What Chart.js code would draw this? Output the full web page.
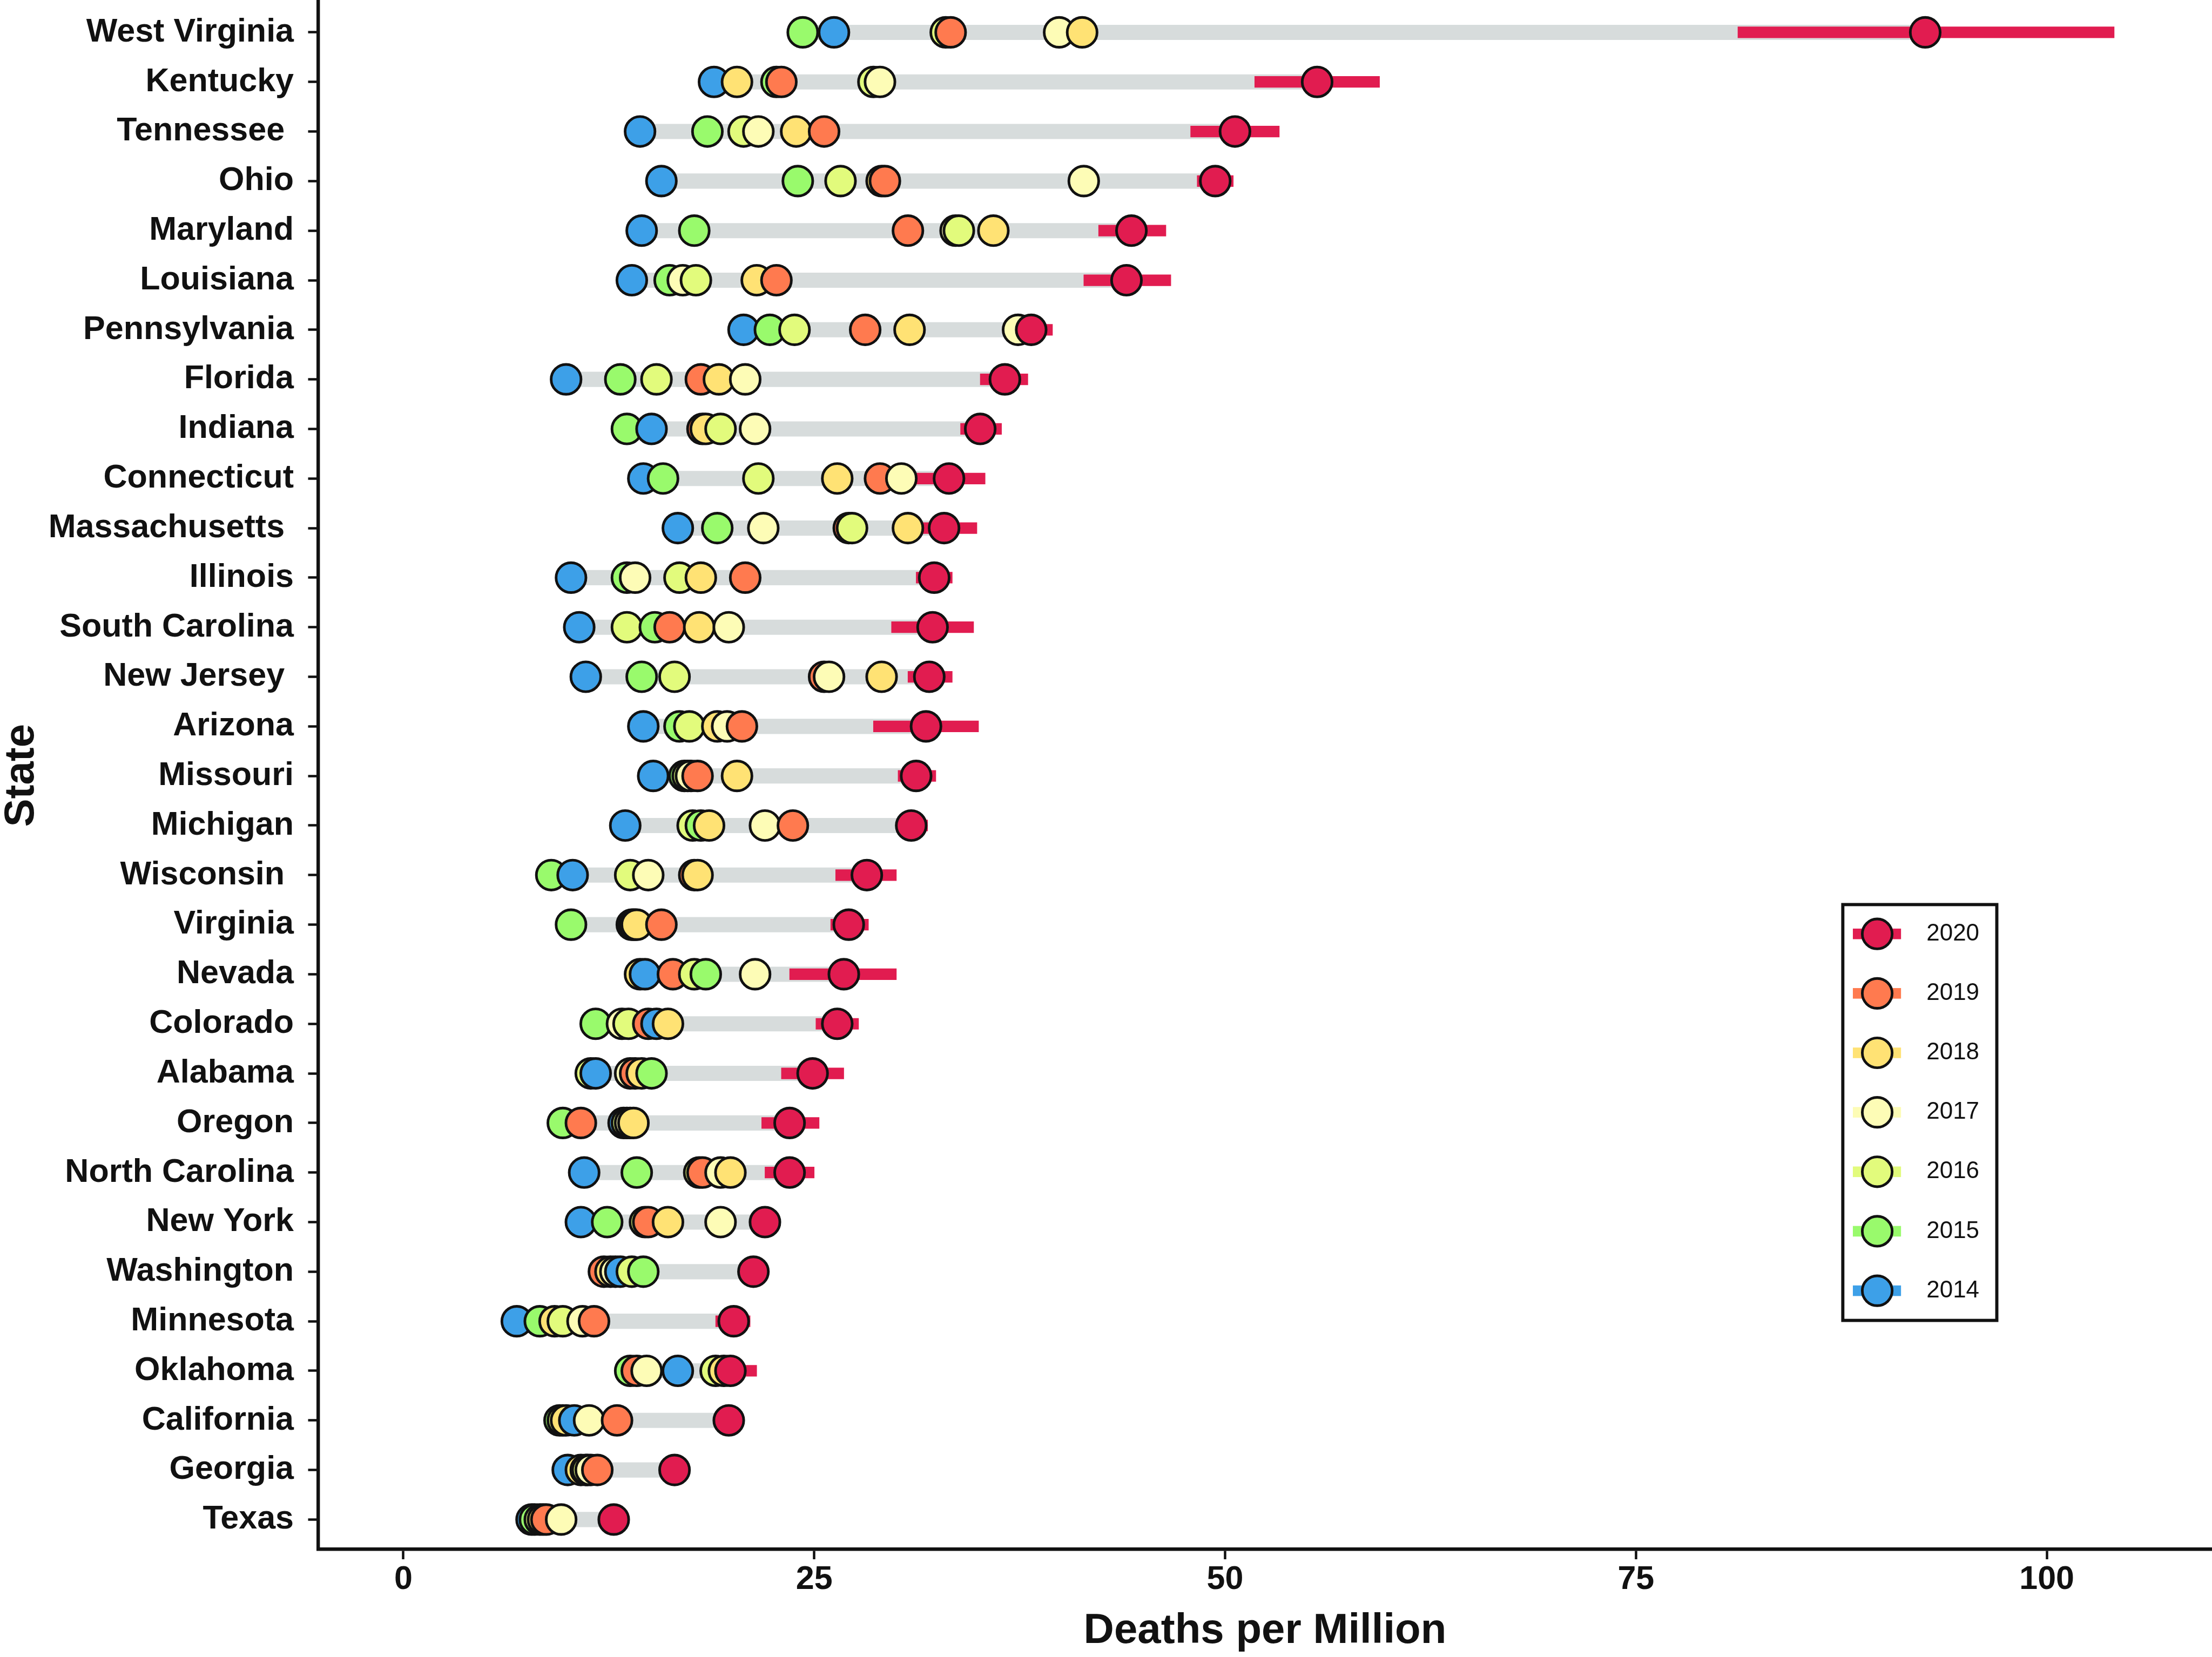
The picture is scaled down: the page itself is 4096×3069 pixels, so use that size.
<!DOCTYPE html>
<html>
<head>
<meta charset="utf-8">
<script src="https://cdn.jsdelivr.net/npm/chart.js@4/dist/chart.umd.min.js"></script>
<style>
  html, body { margin: 0; padding: 0; background: #ffffff; }
  #wrap { width: 4096px; height: 3069px; position: relative; }
  canvas { display: block; }
</style>
</head>
<body>
<div id="wrap"><canvas id="c" width="4096" height="3069"></canvas></div>
<script>
// ---------------- DATA ----------------
const states = ["West Virginia","Kentucky","Tennessee ","Ohio","Maryland","Louisiana","Pennsylvania","Florida","Indiana","Connecticut","Massachusetts ","Illinois","South Carolina","New Jersey ","Arizona","Missouri","Michigan","Wisconsin ","Virginia","Nevada","Colorado","Alabama","Oregon","North Carolina","New York","Washington","Minnesota","Oklahoma","California","Georgia","Texas"];
const years = ["2014","2015","2016","2017","2018","2019","2020"];

const y2014 = [26.2,18.9,14.4,15.7,14.5,13.9,20.7, 9.9,15.1,14.6,16.7,10.2,10.7,11.1,14.6,15.2,13.5,10.3,13.9,14.7,15.4,11.7,13.4,11.0,10.8,13.2, 6.9,16.7,10.4,10.0, 7.8];
const y2015 = [24.3,22.7,18.5,24.0,17.7,16.2,22.3,13.2,13.6,15.8,19.1,13.6,15.3,14.5,16.8,17.1,18.1, 9.0,10.2,18.4,11.7,15.1, 9.7,14.2,12.4,14.6, 8.3,13.8, 9.5,11.1, 8.0];
const y2016 = [33.0,28.6,20.7,26.6,33.8,17.8,23.8,15.4,19.3,21.6,27.3,16.8,13.6,16.5,17.4,17.3,17.6,13.8,14.0,17.7,13.7,11.4,13.6,18.0,14.7,13.9, 9.7,19.0, 9.7,11.2, 8.3];
const y2017 = [39.9,29.0,21.6,41.4,33.6,17.0,37.4,20.8,21.4,30.3,21.9,14.1,19.8,25.9,19.7,17.5,22.0,14.9,14.1,21.4,13.3,13.8,13.8,19.3,19.3,12.9,10.9,14.8,11.3,11.4, 9.6];
const y2018 = [41.3,20.3,23.9,29.1,35.9,21.5,30.8,19.2,18.4,26.4,30.7,18.1,18.0,29.1,19.1,20.3,18.6,17.9,14.2,14.4,16.1,14.5,14.0,19.9,16.1,12.6, 9.2,19.5, 9.9,10.8, 8.5];
const y2019 = [33.3,23.0,25.6,29.3,30.7,22.7,28.1,18.1,18.2,29.0,27.1,20.8,16.2,25.6,20.6,17.9,23.7,17.7,15.7,16.4,14.9,14.1,10.8,18.2,14.9,12.2,11.6,14.2,13.0,11.8, 8.7];
const y2020 = [92.6,55.6,50.6,49.4,44.3,44.0,38.2,36.6,35.1,33.2,32.9,32.3,32.2,32.0,31.8,31.2,30.9,28.2,27.1,26.8,26.4,24.9,23.5,23.5,22.0,21.3,20.1,19.9,19.8,16.5,12.8];
const lo2020 = [81.2,51.8,47.9,48.3,42.3,41.4,37.0,35.1,33.9,31.0,31.0,31.2,29.7,30.7,28.6,30.1,30.0,26.3,26.0,23.5,25.1,23.0,21.8,22.0,21.5,20.8,19.0,18.1,19.3,16.0,12.3];
const hi2020 = [104.1,59.4,53.3,50.5,46.4,46.7,39.5,38.0,36.4,35.4,34.9,33.4,34.7,33.4,35.0,32.4,31.9,30.0,28.3,30.0,27.7,26.8,25.3,25.0,22.5,21.8,21.1,21.5,20.3,17.0,13.3];
const xTicks = [0, 25, 50, 75, 100];

// ---------------- STYLE ----------------
const yearColors = ["#3DA0E8","#99FA6C","#E2FB7C","#FDFCB6","#FFE274","#FF7A4F","#E11C50"];
const FONT = "'Liberation Sans', Arial, sans-serif";
const INK = "#111111";
const S = 0.98;

// ---------------- BUILD ----------------
const series = [y2014, y2015, y2016, y2017, y2018, y2019, y2020];
const pts = [];
states.forEach((s, i) => series.forEach((arr, k) => pts.push({ x: arr[i], y: i, c: yearColors[k] })));
pts.sort((a, b) => a.x - b.x); // right-most point drawn on top

const rangeData = states.map((s, i) => {
  const vals = series.map(a => a[i]);
  return { y: i, x: [Math.min(...vals), Math.max(...vals)] };
});
const ciData = states.map((s, i) => ({ y: i, x: [lo2020[i], hi2020[i]] }));

const PR = 28.2 * S;   // point radius
const PBW = 5 * S;     // point border width

const legendPlugin = {
  id: 'yearLegend',
  afterDraw(chart) {
    const ctx = chart.ctx;
    ctx.save();
    ctx.lineWidth = 6 * S;
    ctx.strokeStyle = INK;
    const L = 3482 * S, T = 1709.6 * S, R = 3773 * S, B = 2495.5 * S;
    ctx.strokeRect(L, T, R - L, B - T);
    const y0 = 1765 * S, dy = 112.4 * S;
    for (let k = 0; k < years.length; k++) {
      const idx = years.length - 1 - k;
      const cy = y0 + k * dy;
      ctx.fillStyle = yearColors[idx];
      ctx.fillRect(3501 * S, cy - 10 * S, 91 * S, 20 * S);
      ctx.beginPath();
      ctx.arc(3547 * S, cy, PR, 0, Math.PI * 2);
      ctx.fillStyle = yearColors[idx];
      ctx.fill();
      ctx.lineWidth = PBW;
      ctx.strokeStyle = INK;
      ctx.stroke();
      ctx.fillStyle = INK;
      ctx.font = `normal ${Math.round(45 * S)}px ${FONT}`;
      ctx.textAlign = 'left';
      ctx.textBaseline = 'middle';
      ctx.fillText(years[idx], 3640 * S, cy);
    }
    ctx.restore();
  }
};

Chart.defaults.font.family = FONT;
Chart.defaults.color = INK;

new Chart(document.getElementById('c'), {
  type: 'bar',
  data: {
    datasets: [
      {
        type: 'scatter',
        label: 'points',
        data: pts.map(p => ({ x: p.x, y: p.y })),
        pointBackgroundColor: pts.map(p => p.c),
        pointBorderColor: INK,
        pointBorderWidth: PBW,
        pointRadius: PR,
        pointHoverRadius: PR,
        showLine: false,
        order: 0
      },
      {
        type: 'bar',
        label: '2020 range',
        indexAxis: 'y',
        data: ciData,
        backgroundColor: yearColors[6],
        borderWidth: 0,
        barThickness: 21 * S,
        grouped: false,
        order: 1
      },
      {
        type: 'bar',
        label: 'range',
        indexAxis: 'y',
        data: rangeData,
        backgroundColor: '#D7DCDC',
        borderWidth: 0,
        barThickness: 28 * S,
        grouped: false,
        order: 2
      }
    ]
  },
  options: {
    responsive: false,
    devicePixelRatio: 1,
    animation: false,
    events: [],
    layout: { autoPadding: false, padding: { top: 3, left: 0, right: 0, bottom: 0 } },
    plugins: { legend: { display: false }, tooltip: { enabled: false } },
    scales: {
      x: {
        type: 'linear',
        position: 'bottom',
        offset: false,
        beginAtZero: false,
        min: -5.19,
        max: 110.05,
        afterBuildTicks: s => { s.ticks = xTicks.map(v => ({ value: v })); },
        ticks: {
          font: { family: FONT, size: 61, weight: 'bold' },
          color: INK, padding: 1.5, autoSkip: false, maxRotation: 0,
          callback: v => String(v)
        },
        grid: { display: true, offset: false, drawOnChartArea: false, drawTicks: true, tickLength: 18.5, tickWidth: 4.5, tickColor: INK },
        border: { display: true, width: 6.4, color: INK },
        title: {
          display: true, text: 'Deaths per Million', color: INK,
          font: { family: FONT, size: 78, weight: 'bold', lineHeight: 1 },
          padding: { top: 0, bottom: 9 }
        },
        afterFit: s => { s.height = 199.5; s.paddingLeft = 0; s.paddingRight = 0; }
      },
      y: {
        type: 'linear',
        position: 'left',
        offset: false,
        beginAtZero: false,
        reverse: true,
        min: -0.62,
        max: 30.6,
        afterBuildTicks: s => { s.ticks = states.map((_, i) => ({ value: i })); },
        ticks: {
          font: { family: FONT, size: 61, weight: 'bold' },
          color: INK, padding: 26.5, autoSkip: false,
          callback: v => states[v]
        },
        grid: { display: true, offset: false, drawOnChartArea: false, drawTicks: true, tickLength: 18.5, tickWidth: 4.5, tickColor: INK },
        border: { display: true, width: 6.4, color: INK },
        title: {
          display: true, text: 'State', color: INK,
          font: { family: FONT, size: 78, weight: 'bold', lineHeight: 1 },
          padding: { top: 1, bottom: 0 }
        },
        afterFit: s => { s.width = 589; s.paddingTop = 0; s.paddingBottom = 0; }
      }
    }
  },
  plugins: [legendPlugin]
});
</script>
</body>
</html>
